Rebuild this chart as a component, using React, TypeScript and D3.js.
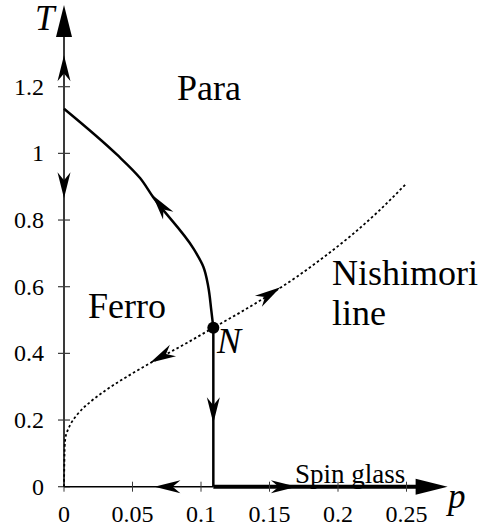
import React from "react";
import * as d3 from "d3";

// ---- data ----
const xTicks = [0, 0.05, 0.1, 0.15, 0.2, 0.25];
const xTickLabels = ["0", "0.05", "0.1", "0.15", "0.2", "0.25"];
const yTicks = [0, 0.2, 0.4, 0.6, 0.8, 1, 1.2];
const yTickLabels = ["0", "0.2", "0.4", "0.6", "0.8", "1", "1.2"];

// phase boundary (Ferro / Para)
const critP = [0, 0.0387, 0.0555, 0.065, 0.0944, 0.1017, 0.1053, 0.1075, 0.109];
const critT = [1.134, 0.996, 0.926, 0.869, 0.715, 0.66, 0.6, 0.53, 0.477];

// Nishimori line
const nishP = [0, 0.0005, 0.001, 0.003, 0.005, 0.01, 0.02, 0.03, 0.05, 0.07, 0.09, 0.109, 0.13, 0.15, 0.17, 0.19, 0.21, 0.23, 0.25];
const nishT = [0, 0.12, 0.145, 0.172, 0.189, 0.218, 0.257, 0.288, 0.34, 0.387, 0.432, 0.477, 0.526, 0.576, 0.63, 0.69, 0.755, 0.828, 0.91];

// Nishimori point
const pointN = { p: 0.109, T: 0.477 };

// flow arrows: tip and a point they come from
const flowTipP = [0.0645, 0, 0, 0.109, 0.066, 0.17, 0.0628, 0.158];
const flowTipT = [0.875, 1.294, 0.865, 0.19, 0, 0, 0.372, 0.598];
const flowFromP = [0.0944, 0, 0, 0.109, 0.1, 0.1, 0.09, 0.13];
const flowFromT = [0.715, 1.1, 1.1, 0.477, 0, 0, 0.432, 0.526];

const xAxisEnd = 0.28;
const yAxisEnd = 1.445;

const W = 489;
const H = 527;

export default function App() {
  const x = d3.scaleLinear().domain([0, 0.28]).range([64, 64 + 0.28 * 1370]);
  const y = d3.scaleLinear().domain([0, 1.2]).range([486.7, 86.7]);

  const critLine = d3
    .line<[number, number]>()
    .x((d) => x(d[0]))
    .y((d) => y(d[1]))
    .curve(d3.curveMonotoneY);
  const critPath = critLine(critP.map((p, i) => [p, critT[i]]) as [number, number][]);

  const nishLine = d3
    .line<[number, number]>()
    .x((d) => x(d[0]))
    .y((d) => y(d[1]))
    .curve(d3.curveMonotoneX);
  const nishPath = nishLine(nishP.map((p, i) => [p, nishT[i]]) as [number, number][]);

  const arrowHead = (tx: number, ty: number, fx: number, fy: number, len: number, hw: number, notch: number) => {
    const dx = tx - fx;
    const dy = ty - fy;
    const L = Math.hypot(dx, dy) || 1;
    const ux = dx / L;
    const uy = dy / L;
    const nx = -uy;
    const ny = ux;
    const bx = tx - ux * len;
    const by = ty - uy * len;
    const mx = tx - ux * len * (1 - notch);
    const my = ty - uy * len * (1 - notch);
    return `M${tx},${ty}L${bx + nx * hw},${by + ny * hw}L${mx},${my}L${bx - nx * hw},${by - ny * hw}Z`;
  };

  const x0 = x(0);
  const y0 = y(0);
  const xEnd = x(xAxisEnd);
  const yEnd = y(yAxisEnd);
  const bigLen = 32;

  return (
    <svg width={W} height={H} style={{ display: "block", position: "absolute", left: 0, top: 0 }}>
      <rect x={0} y={0} width={W} height={H} fill="#fff" />
      {/* y axis */}
      <line x1={x0} y1={y0} x2={x0} y2={yEnd + bigLen - 2} stroke="#3a3a3a" strokeWidth={2} />
      <path d={arrowHead(x0, yEnd, x0, y0, bigLen, 8, 0)} fill="#000" />
      {yTicks.map((t, i) => (
        <line key={"ytl" + i} x1={x0 - 6} x2={x0 + 6} y1={y(t)} y2={y(t)} stroke="#3a3a3a" strokeWidth={1.2} />
      ))}

      {/* x axis */}
      <line x1={x0} y1={y0} x2={x(pointN.p)} y2={y0} stroke="#000" strokeWidth={1.6} />
      <line x1={x(pointN.p)} y1={y0} x2={xEnd - bigLen + 2} y2={y0} stroke="#000" strokeWidth={4} />
      <path d={arrowHead(xEnd, y0, x0, y0, bigLen, 8, 0)} fill="#000" />
      {xTicks.map((t, i) => (
        <line key={"xtl" + i} x1={x(t)} x2={x(t)} y1={y0 - 5} y2={y0 + 5} stroke="#3a3a3a" strokeWidth={1} />
      ))}

      {/* Nishimori line */}
      <path d={nishPath || ""} fill="none" stroke="#000" strokeWidth={1.8} strokeDasharray="2.5,2.5" />

      {/* phase boundary */}
      <path d={critPath || ""} fill="none" stroke="#000" strokeWidth={2.5} />
      <line x1={x(pointN.p)} y1={y(pointN.T)} x2={x(pointN.p)} y2={y0} stroke="#000" strokeWidth={2.5} />

      {/* flow arrows */}
      {flowTipP.map((p, i) => (
        <path
          key={"fa" + i}
          d={arrowHead(x(p), y(flowTipT[i]), x(flowFromP[i]), y(flowFromT[i]), 26, 6.5, 0.3)}
          fill="#000"
        />
      ))}

      {/* Nishimori point */}
      <circle cx={x(pointN.p)} cy={y(pointN.T)} r={6} fill="#000" />

      {/* texts */}
      {yTicks.map((t, i) => (
        <text key={"yt" + i} x={44} y={y(t) + 8} textAnchor="end" style={{ fontFamily: "Liberation Serif", fontSize: 24 }}>
          {yTickLabels[i]}
        </text>
      ))}
      {xTicks.map((t, i) => (
        <text key={"xt" + i} x={x(t)} y={522} textAnchor="middle" style={{ fontFamily: "Liberation Serif", fontSize: 24 }}>
          {xTickLabels[i]}
        </text>
      ))}
      <text x={35} y={30} style={{ fontFamily: "Liberation Serif", fontSize: 35, fontStyle: "italic" }}>T</text>
      <text x={448} y={508} style={{ fontFamily: "Liberation Serif", fontSize: 35, fontStyle: "italic" }}>p</text>
      <text x={177} y={100} style={{ fontFamily: "Liberation Serif", fontSize: 36 }}>Para</text>
      <text x={88} y={318} style={{ fontFamily: "Liberation Serif", fontSize: 36 }}>Ferro</text>
      <text x={332} y={285} style={{ fontFamily: "Liberation Serif", fontSize: 36 }}>Nishimori</text>
      <text x={332} y={325} style={{ fontFamily: "Liberation Serif", fontSize: 36 }}>line</text>
      <text x={217} y={353} style={{ fontFamily: "Liberation Serif", fontSize: 36, fontStyle: "italic" }}>N</text>
      <text x={295} y={483} style={{ fontFamily: "Liberation Serif", fontSize: 27 }}>Spin glass</text>
    </svg>
  );
}
